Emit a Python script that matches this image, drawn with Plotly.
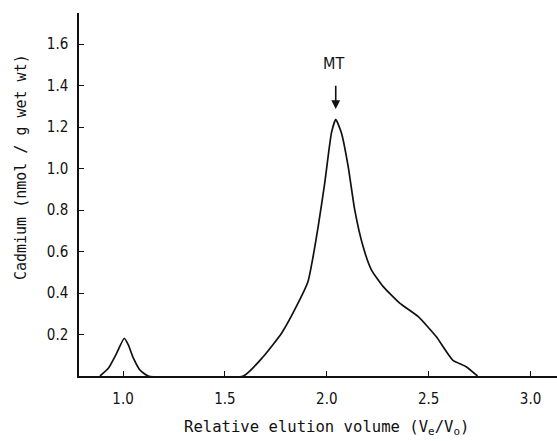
import plotly.graph_objects as go

# Relative elution volume (Ve/V0)
elution = [0.887, 0.928, 0.969, 1.006, 1.026, 1.051, 1.083, 1.124,
           1.59, 1.688, 1.778, 1.859, 1.908, 1.933, 1.958, 1.99, 2.023, 2.044,
           2.072, 2.105, 2.137, 2.178, 2.219, 2.276, 2.358, 2.448, 2.537,
           2.618, 2.684, 2.74]
# Cadmium (nmol / g wet wt)
cadmium = [0.0, 0.037, 0.11, 0.182, 0.15, 0.086, 0.029, 0.0,
           0.0, 0.093, 0.206, 0.351, 0.456, 0.576, 0.721, 0.93, 1.172, 1.237,
           1.172, 1.011, 0.802, 0.625, 0.512, 0.432, 0.351, 0.287, 0.19,
           0.077, 0.045, 0.0]

x_ticks = [1.0, 1.5, 2.0, 2.5, 3.0]
x_ticklabels = ["1.0", "1.5", "2.0", "2.5", "3.0"]
y_ticks = [0.2, 0.4, 0.6, 0.8, 1.0, 1.2, 1.4, 1.6]
y_ticklabels = ["0.2", "0.4", "0.6", "0.8", "1.0", "1.2", "1.4", "1.6"]

peak_label = "MT"

FONT = "DejaVu Sans Condensed, DejaVu Sans, sans-serif"
TITLE_FONT = "DejaVu Sans Mono, monospace"

fig = go.Figure()
fig.add_trace(go.Scatter(
    x=elution, y=cadmium, mode="lines",
    line=dict(color="#111111", width=1.7, shape="spline", smoothing=0.5),
    showlegend=False, hoverinfo="skip",
))

# arrow and label at the main peak
i_peak = max(range(len(cadmium)), key=lambda i: cadmium[i])
px, py = elution[i_peak], cadmium[i_peak]
fig.add_annotation(x=px, y=py + 0.05, ax=px, ay=py + 0.17,
                   xref="x", yref="y", axref="x", ayref="y",
                   text="", showarrow=True, arrowhead=2, arrowsize=1.1,
                   arrowwidth=1.6, arrowcolor="#111111")
fig.add_annotation(x=px - 0.01, y=py + 0.27, xref="x", yref="y",
                   text=peak_label, showarrow=False,
                   font=dict(family=FONT, size=16, color="#111111"))

# axis titles
fig.add_annotation(x=-0.121, y=0.576, xref="paper", yref="paper",
                   text="Cadmium (nmol / g wet wt)", textangle=-90,
                   showarrow=False, xanchor="center", yanchor="middle",
                   font=dict(family=TITLE_FONT, size=15, color="#111111"))
fig.add_annotation(x=0.517, y=-0.143, xref="paper", yref="paper",
                   text="Relative elution volume (V<sub>e</sub>/V<sub>o</sub>)",
                   showarrow=False, xanchor="center", yanchor="middle",
                   font=dict(family=TITLE_FONT, size=15.6, color="#111111"))

fig.update_layout(
    width=557, height=441,
    margin=dict(l=79, r=0, t=13, b=65),
    paper_bgcolor="white", plot_bgcolor="white",
    font=dict(family=FONT, size=15, color="#111111"),
    xaxis=dict(range=[0.784, 3.13], tickvals=x_ticks, ticktext=x_ticklabels,
               showgrid=False, zeroline=False, showline=True,
               linecolor="#111111", linewidth=1.5,
               ticks="inside", ticklen=5, tickwidth=1.2, tickcolor="#111111",
               ticklabelstandoff=8),
    yaxis=dict(range=[0, 1.75], tickvals=y_ticks, ticktext=y_ticklabels,
               showgrid=False, zeroline=False, showline=True,
               linecolor="#111111", linewidth=1.5,
               ticks="inside", ticklen=5, tickwidth=1.2, tickcolor="#111111",
               ticklabelstandoff=6),
)

fig.write_html("out.html")
